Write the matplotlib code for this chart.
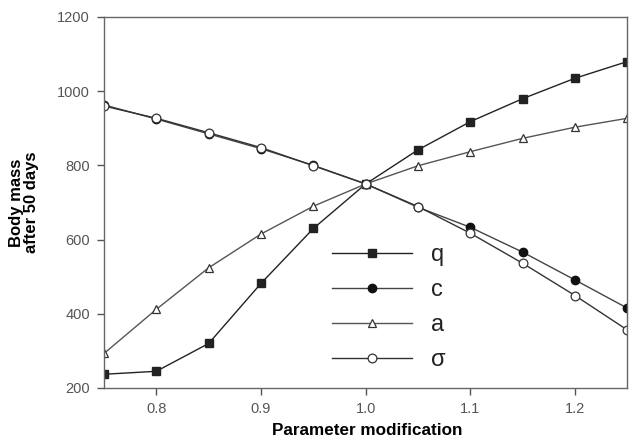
import numpy as np
import matplotlib
matplotlib.use('Agg')
import matplotlib.pyplot as plt

plt.rcParams['font.family'] = ['Liberation Sans', 'DejaVu Sans']

########################################################################
# data
param = [0.75, 0.80, 0.85, 0.90, 0.95, 1.00, 1.05, 1.10, 1.15, 1.20, 1.25]

mass_q = [237, 245, 320, 482, 630, 750, 842, 918, 980, 1035, 1080]
mass_c = [963, 925, 885, 845, 800, 750, 687, 633, 566, 491, 415]
mass_a = [293, 412, 524, 615, 690, 750, 799, 837, 873, 903, 927]
mass_s = [960, 927, 888, 848, 799, 750, 689, 617, 536, 449, 356]

labels = ['q', 'c', 'a', 'σ']

########################################################################
fig = plt.figure(figsize=(6.29, 4.40), dpi=100)
ax = fig.add_axes([0.1653, 0.1182, 0.8323, 0.8432])

ax.plot(param, mass_q, '-s', color='#222222', lw=1.0, ms=5.2,
        mfc='#222222', mec='#222222', label=labels[0])
ax.plot(param, mass_c, '-o', color='#444444', lw=1.0, ms=6,
        mfc='#111111', mec='#111111', label=labels[1])
ax.plot(param, mass_a, '-^', color='#555555', lw=1.0, ms=6,
        mfc='white', mec='#333333', mew=0.9, label=labels[2])
ax.plot(param, mass_s, '-o', color='#333333', lw=1.0, ms=6.3,
        mfc='white', mec='#333333', mew=0.9, label=labels[3])

ax.set_xlim(0.75, 1.25)
ax.set_ylim(200, 1200)
ax.set_xticks([0.8, 0.9, 1.0, 1.1, 1.2])
ax.set_xticklabels(['0.8', '0.9', '1.0', '1.1', '1.2'])
ax.set_yticks([200, 400, 600, 800, 1000, 1200])

for s in ax.spines.values():
    s.set_color('#666666')
    s.set_linewidth(1.0)

ax.tick_params(direction='out', length=5, width=1.0, color='#555555',
               labelsize=10.5, labelcolor='#555555', pad=5)

# label placement tuned by hand to the original
ax.set_xlabel('Parameter modification', fontsize=12.3, fontweight='bold')
ax.xaxis.set_label_coords(0.502, -0.095)
ax.set_ylabel('Body mass\nafter 50 days', fontsize=12, fontweight='bold',
              linespacing=1.0)
ax.yaxis.set_label_coords(-0.125, 0.5)

leg = ax.legend(loc='center left', bbox_to_anchor=(0.4355, 0.217),
                frameon=False, fontsize=17, handlelength=3.4,
                handletextpad=0.8, labelspacing=0.55,
                borderpad=0, borderaxespad=0)
for t in leg.get_texts():
    t.set_color('#222222')

fig.savefig('out.png', dpi=100)
